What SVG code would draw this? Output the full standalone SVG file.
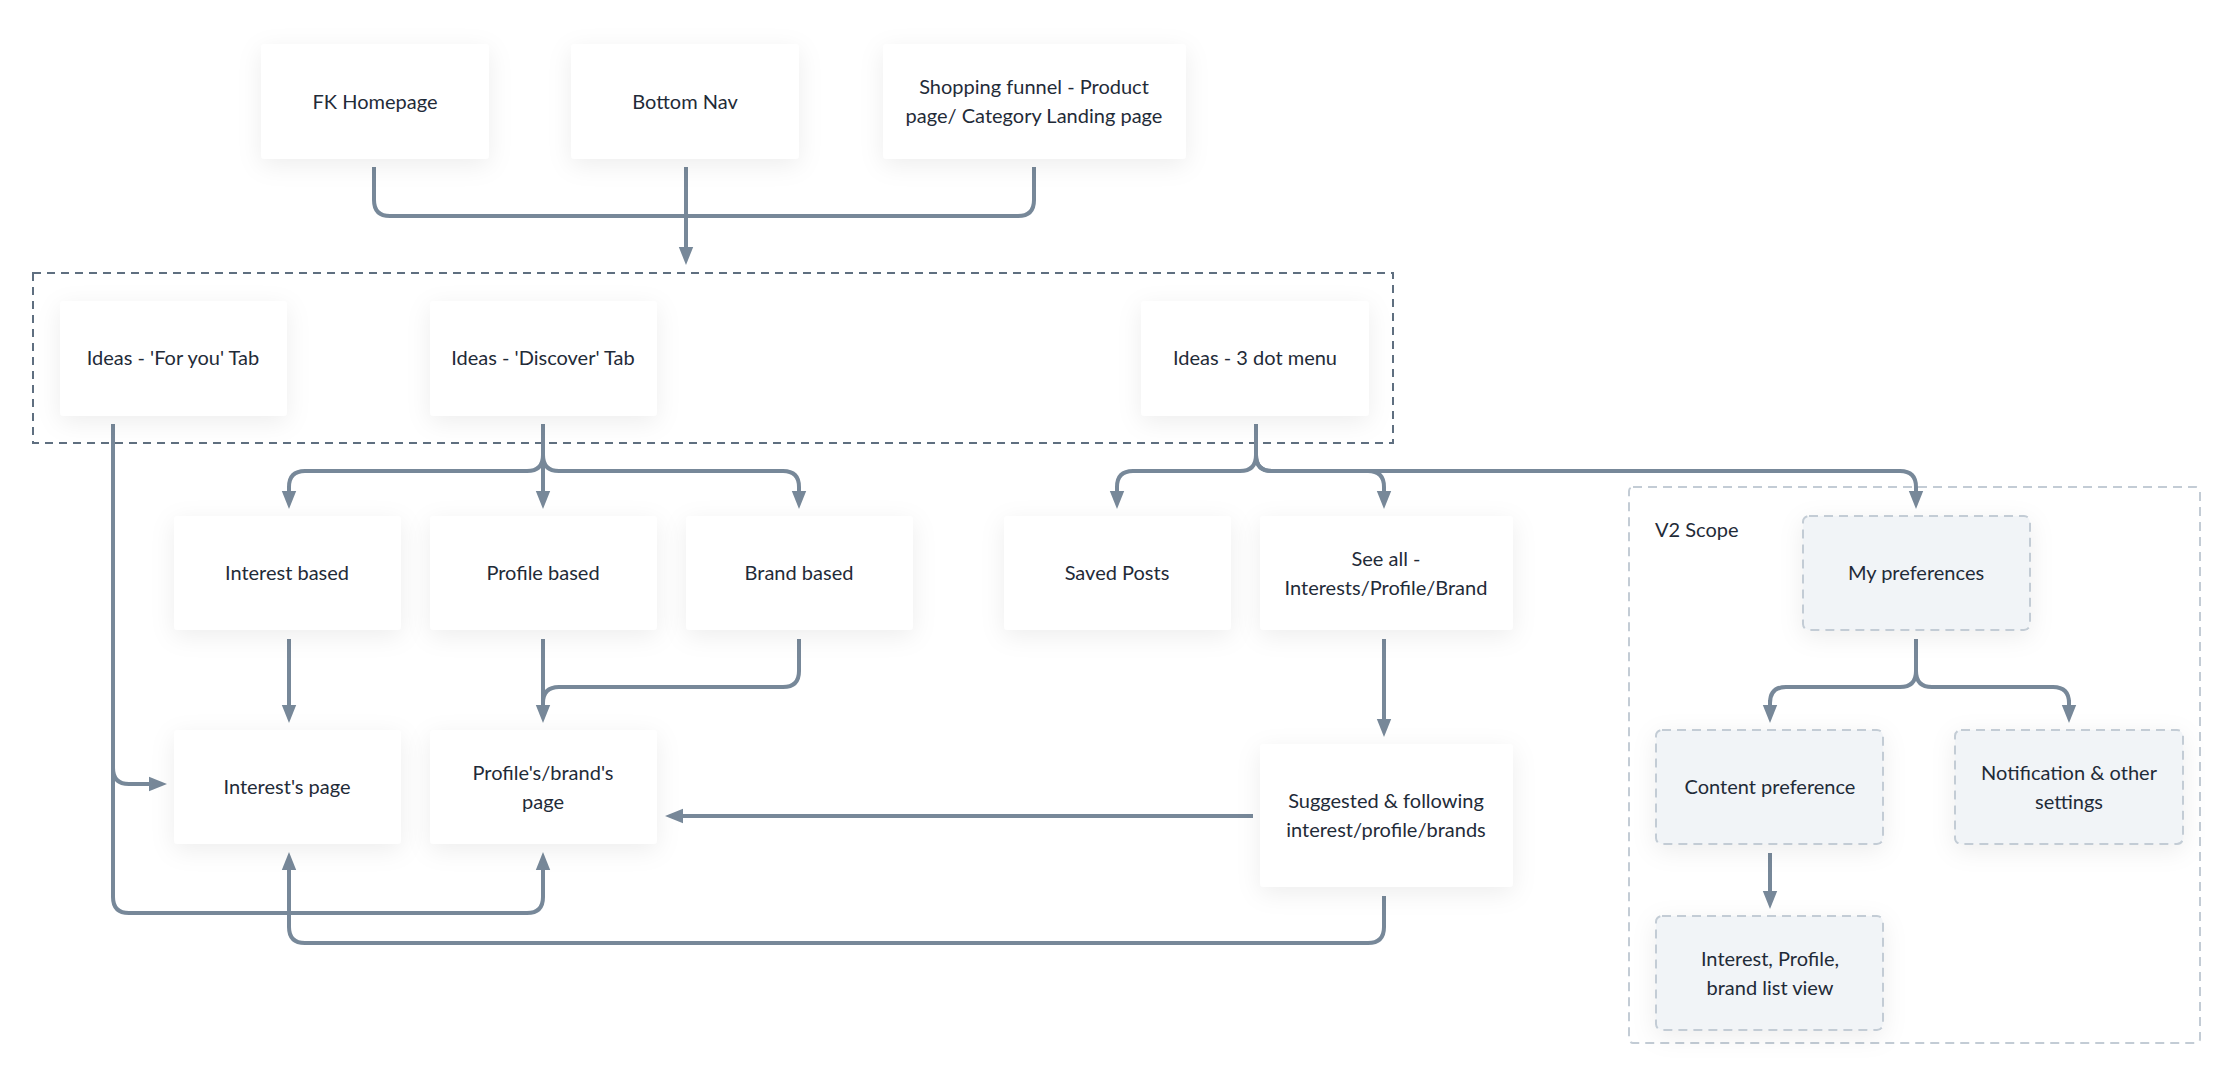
<svg xmlns="http://www.w3.org/2000/svg" width="2240" height="1084" viewBox="0 0 2240 1084">
<defs>
<filter id="sh" x="-30%" y="-30%" width="160%" height="160%"><feDropShadow dx="0" dy="6" stdDeviation="12" flood-color="#000" flood-opacity="0.07"/></filter>
<marker id="ar" viewBox="0 0 10 10" refX="5" refY="5" markerWidth="4.5" markerHeight="4.5" orient="auto"><path d="M0,1 L10,5 L0,9 Z" fill="#778899"/></marker>
<style>
.n{fill:#fff;filter:url(#sh)}
.v{fill:#f1f4f7;stroke:#c3ccd5;stroke-width:2;stroke-dasharray:9 6;filter:url(#sh)}
.t{font-family:Lato,"Noto Sans",sans-serif;font-size:20px;fill:#1f2b38;text-anchor:middle}
.c{fill:none;stroke:#778899;stroke-width:4;stroke-linejoin:round}
.a{marker-end:url(#ar)}
</style>
</defs>
<rect width="2240" height="1084" fill="#fff"/>
<rect x="33" y="273" width="1360" height="170" fill="none" stroke="#5f6f80" stroke-width="2" stroke-dasharray="8 6"/>
<g id="v2scope"><rect x="1629" y="487" width="571" height="556" rx="4" fill="none" stroke="#c3ccd5" stroke-width="2" stroke-dasharray="9 6"/><text x="1655" y="537" class="t" style="text-anchor:start">V2 Scope</text></g>
<g id="connectors">
<path class="c" d="M374,167 V200 Q374,216 390,216 H1018 Q1034,216 1034,200 V167"/>
<path class="c a" d="M686,167 V256"/>
<path class="c" d="M543,424 V455 Q543,471 527,471 H305 Q289,471 289,487 V497"/>
<path class="c a" d="M289,490 V500"/>
<path class="c a" d="M543,424 V500"/>
<path class="c a" d="M543,455 Q543,471 559,471 H783 Q799,471 799,487 V500"/>
<path class="c a" d="M1256,424 V455 Q1256,471 1240,471 H1133 Q1117,471 1117,487 V500"/>
<path class="c a" d="M1256,455 Q1256,471 1272,471 H1368 Q1384,471 1384,487 V500"/>
<path class="c a" d="M1256,455 Q1256,471 1272,471 H1900 Q1916,471 1916,487 V500"/>
<path class="c a" d="M289,639 V714"/>
<path class="c a" d="M543,639 V714"/>
<path class="c" d="M799,639 V671 Q799,687 783,687 H559 Q543,687 543,703"/>
<path class="c a" d="M1384,639 V728"/>
<path class="c a" d="M1253,816 H674"/>
<path class="c a" d="M113,424 V768 Q113,784 129,784 H158"/>
<path class="c a" d="M113,768 V897 Q113,913 129,913 H527 Q543,913 543,897 V861"/>
<path class="c a" d="M1384,896 V927 Q1384,943 1368,943 H305 Q289,943 289,927 V861"/>
<path class="c" d="M1916,639 V671 Q1916,687 1900,687 H1786 Q1770,687 1770,703 V708"/>
<path class="c a" d="M1770,700 V714"/>
<path class="c" d="M1916,671 Q1916,687 1932,687 H2053 Q2069,687 2069,703"/>
<path class="c a" d="M2069,700 V714"/>
<path class="c a" d="M1770,853 V900"/>
</g>
<g id="fk"><rect class="n" x="261" y="44" width="228" height="115" rx="4"/><text class="t" x="375" y="109">FK Homepage</text></g>
<g id="bnav"><rect class="n" x="571" y="44" width="228" height="115" rx="4"/><text class="t" x="685" y="109">Bottom Nav</text></g>
<g id="shop"><rect class="n" x="883" y="44" width="303" height="115" rx="4"/><text class="t" x="1034" y="94">Shopping funnel - Product</text><text class="t" x="1034" y="123">page/ Category Landing page</text></g>
<g id="foryou"><rect class="n" x="60" y="301" width="227" height="115" rx="4"/><text class="t" x="173" y="365">Ideas - 'For you' Tab</text></g>
<g id="discover"><rect class="n" x="430" y="301" width="227" height="115" rx="4"/><text class="t" x="543" y="365">Ideas - 'Discover' Tab</text></g>
<g id="dot"><rect class="n" x="1141" y="301" width="228" height="115" rx="4"/><text class="t" x="1255" y="365">Ideas - 3 dot menu</text></g>
<g id="interest"><rect class="n" x="174" y="516" width="227" height="114" rx="4"/><text class="t" x="287" y="580">Interest based</text></g>
<g id="profile"><rect class="n" x="430" y="516" width="227" height="114" rx="4"/><text class="t" x="543" y="580">Profile based</text></g>
<g id="brand"><rect class="n" x="686" y="516" width="227" height="114" rx="4"/><text class="t" x="799" y="580">Brand based</text></g>
<g id="saved"><rect class="n" x="1004" y="516" width="227" height="114" rx="4"/><text class="t" x="1117" y="580">Saved Posts</text></g>
<g id="seeall"><rect class="n" x="1260" y="516" width="253" height="114" rx="4"/><text class="t" x="1386" y="566">See all -</text><text class="t" x="1386" y="595">Interests/Profile/Brand</text></g>
<g id="ipage"><rect class="n" x="174" y="730" width="227" height="114" rx="4"/><text class="t" x="287" y="794">Interest's page</text></g>
<g id="ppage"><rect class="n" x="430" y="730" width="227" height="114" rx="4"/><text class="t" x="543" y="780">Profile's/brand's</text><text class="t" x="543" y="809">page</text></g>
<g id="sugg"><rect class="n" x="1260" y="744" width="253" height="143" rx="4"/><text class="t" x="1386" y="808">Suggested &amp; following</text><text class="t" x="1386" y="837">interest/profile/brands</text></g>
<g id="mypref"><rect class="v" x="1803" y="516" width="227" height="114" rx="6"/><text class="t" x="1916" y="580">My preferences</text></g>
<g id="content"><rect class="v" x="1656" y="730" width="227" height="114" rx="6"/><text class="t" x="1770" y="794">Content preference</text></g>
<g id="notif"><rect class="v" x="1955" y="730" width="228" height="114" rx="6"/><text class="t" x="2069" y="780">Notification &amp; other</text><text class="t" x="2069" y="809">settings</text></g>
<g id="list"><rect class="v" x="1656" y="916" width="227" height="114" rx="6"/><text class="t" x="1770" y="966">Interest, Profile,</text><text class="t" x="1770" y="995">brand list view</text></g>
</svg>
